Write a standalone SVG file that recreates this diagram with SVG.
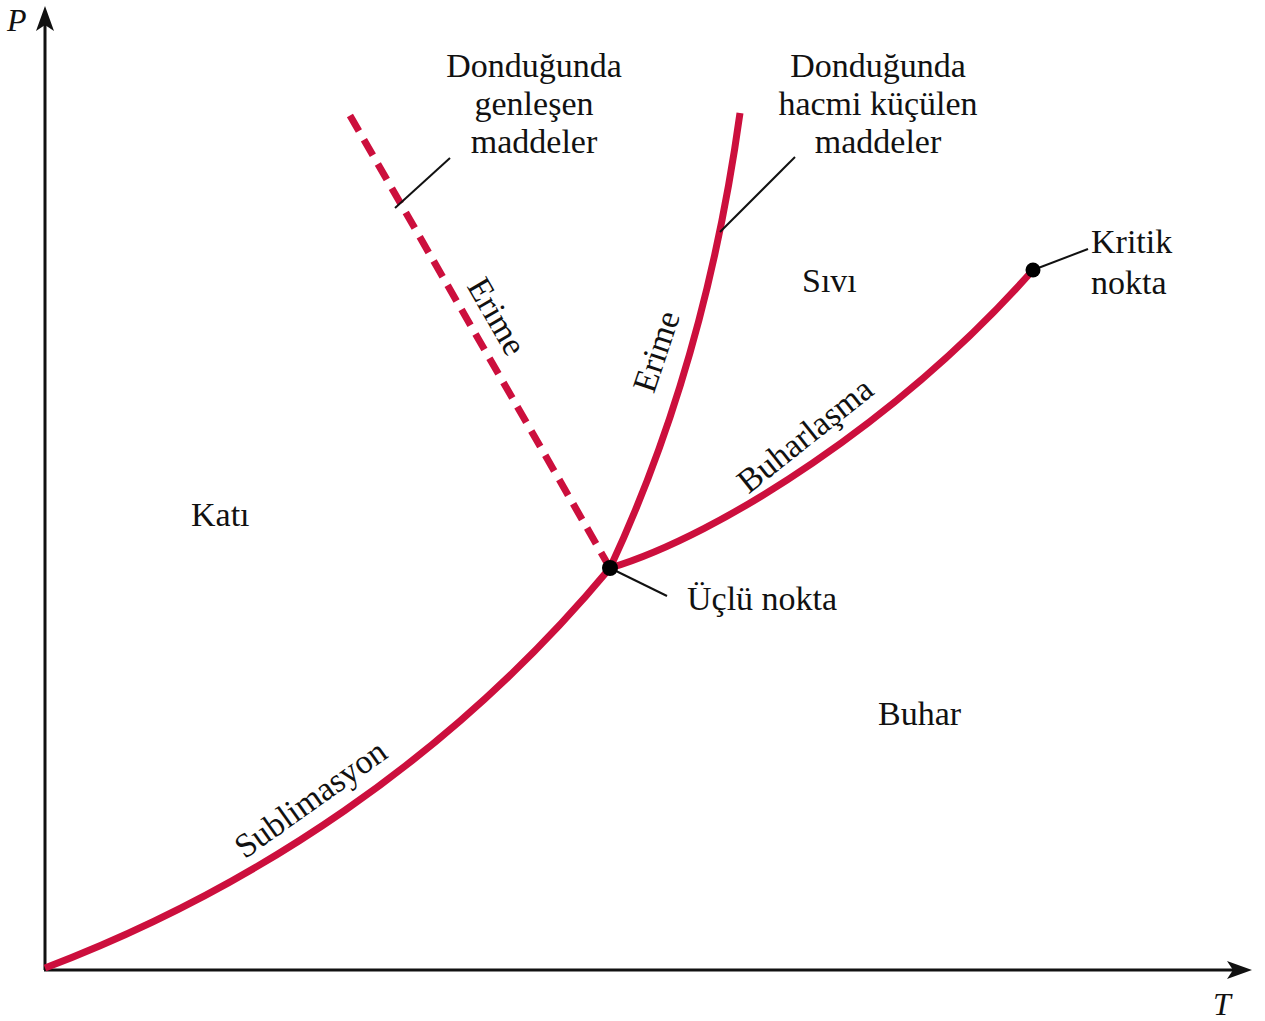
<svg xmlns="http://www.w3.org/2000/svg" width="1265" height="1021" viewBox="0 0 1265 1021">
<style>
text{font-family:"Liberation Serif","Times New Roman",serif;font-size:34px;fill:#111}
.it{font-style:italic;font-size:32px}
.curve{fill:none;stroke:#cc0f3d;stroke-width:7;stroke-linecap:butt}
.lead{stroke:#111;stroke-width:2;fill:none}
.axis{stroke:#111;stroke-width:3;fill:none}
</style>
<rect width="1265" height="1021" fill="#fff"/>
<g id="axes">
<line class="axis" x1="45" y1="970" x2="45" y2="20"/>
<line class="axis" x1="44" y1="970" x2="1240" y2="970"/>
<path d="M45,6 L54,31 L45,25 L36,31 Z" fill="#111"/>
<path d="M1252,970 L1227,961 L1233,970 L1227,979 Z" fill="#111"/>
<text class="it" x="7" y="31">P</text>
<text class="it" x="1213" y="1015">T</text>
</g>
<g id="connectors">
<path id="sublimation" class="curve" d="M45,968 C250,890 450,760 610,568"/>
<path id="vaporization" class="curve" d="M610,568 C720,535 900,420 1033,270"/>
<path id="melting-solid" class="curve" d="M610,568 C652,478 710,330 740,113"/>
<line id="melting-dashed" class="curve" x1="610" y1="568" x2="348" y2="112" stroke-width="8.5" stroke-dasharray="18 10"/>
<line class="lead" x1="395" y1="208" x2="450" y2="158"/>
<line class="lead" x1="720" y1="232" x2="795" y2="157"/>
<line class="lead" x1="612" y1="569" x2="667" y2="596"/>
<line class="lead" x1="1033" y1="270" x2="1088" y2="249"/>
</g>
<g id="triple-point">
<circle cx="610" cy="568" r="8" fill="#000"/>
<text x="687" y="610">Üçlü nokta</text>
</g>
<g id="critical-point">
<circle cx="1033" cy="270" r="7.5" fill="#000"/>
<text x="1091" y="253">Kritik</text>
<text x="1091" y="294">nokta</text>
</g>
<g id="label-expand">
<text x="534" y="77" text-anchor="middle">Donduğunda</text>
<text x="534" y="115" text-anchor="middle">genleşen</text>
<text x="534" y="153" text-anchor="middle">maddeler</text>
</g>
<g id="label-shrink">
<text x="878" y="77" text-anchor="middle">Donduğunda</text>
<text x="878" y="115" text-anchor="middle">hacmi küçülen</text>
<text x="878" y="153" text-anchor="middle">maddeler</text>
</g>
<g id="regions">
<text x="191" y="526">Katı</text>
<text x="802" y="292">Sıvı</text>
<text x="878" y="725">Buhar</text>
</g>
<g id="curve-labels">
<text text-anchor="middle" transform="translate(487,322) rotate(60)">Erime</text>
<text text-anchor="middle" transform="translate(667,355) rotate(-71.5)">Erime</text>
<text text-anchor="middle" transform="translate(812,444) rotate(-38.5)">Buharlaşma</text>
<text text-anchor="middle" transform="translate(317,808) rotate(-35.4)">Sublimasyon</text>
</g>
</svg>
